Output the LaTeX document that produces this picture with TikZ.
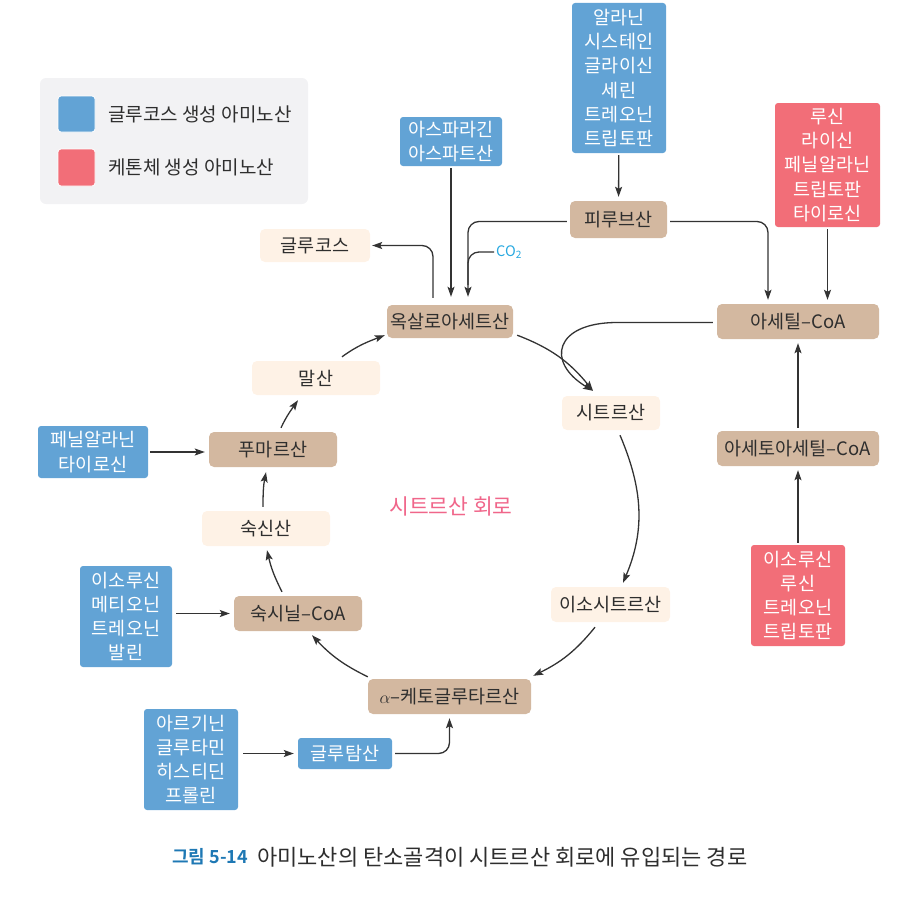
\documentclass[tikz,border=0pt]{standalone}
\usepackage{fontspec}
\setmainfont{Noto Sans CJK KR}
\newfontfamily\capbold{Noto Sans CJK KR Bold}
\usetikzlibrary{arrows.meta,calc}
\definecolor{brownc}{HTML}{D3B8A0}
\definecolor{creamc}{HTML}{FEF2E6}
\definecolor{bluec}{HTML}{62A3D5}
\definecolor{redc}{HTML}{F26E78}
\definecolor{legbg}{HTML}{F2F2F4}
\definecolor{textc}{HTML}{2E2E2E}
\definecolor{linec}{HTML}{333333}
\definecolor{pinkc}{HTML}{F0668A}
\definecolor{cyanc}{HTML}{29A9E0}
\definecolor{capblue}{HTML}{1E78B4}
\begin{document}
\begin{tikzpicture}[x=1pt,y=-1pt,
  box/.style={rounded corners=5pt, minimum height=35pt, inner sep=0pt, font=\fontsize{18.5}{24.2}\selectfont, text=textc, align=center},
  brownbox/.style={box, fill=brownc},
  creambox/.style={box, fill=creamc},
  bluebox/.style={box, fill=bluec, text=white, rounded corners=3pt},
  redbox/.style={box, fill=redc, text=white, rounded corners=3pt},
  arr/.style={draw=linec, line width=1.3pt, -{Stealth[length=10pt,width=7pt,inset=2pt]}},
  plainline/.style={draw=linec, line width=1.3pt},
  legtext/.style={anchor=west, inner sep=0pt, font=\fontsize{19}{22}\selectfont, text=textc}
]
\useasboundingbox (0,0) rectangle (909,899);

% legend
\node[fill=legbg, rounded corners=6pt, minimum width=268pt, minimum height=126pt, inner sep=0pt] (legend) at (174,141) {};
\node[fill=bluec, draw=white, line width=0.8pt, rounded corners=3pt, minimum width=37pt, minimum height=36pt, inner sep=0pt] (lgb) at (76.5,114) {};
\node[fill=redc, draw=white, line width=0.8pt, rounded corners=3pt, minimum width=37pt, minimum height=37pt, inner sep=0pt] (lgr) at (76.5,167.5) {};
\node[legtext] (lgbt) at (108,114) {글루코스 생성 아미노산};
\node[legtext] (lgrt) at (108,167.5) {케톤체 생성 아미노산};

% nodes
\node[bluebox, minimum width=94pt, minimum height=150pt] (ala) at (619,78) {알라닌\\시스테인\\글라이신\\세린\\트레오닌\\트립토판};
\node[brownbox, minimum width=97pt, minimum height=37pt] (pyr) at (618.5,219.5) {피루브산};
\node[bluebox, minimum width=102pt, minimum height=49pt] (asp) at (451,141.5) {아스파라긴\\아스파트산};
\node[redbox, minimum width=105pt, minimum height=124pt] (leu) at (827.5,165) {루신\\라이신\\페닐알라닌\\트립토판\\타이로신};
\node[creambox, minimum width=110pt, minimum height=33pt] (glc) at (315,245.5) {글루코스};
\node[brownbox, minimum width=126pt, minimum height=33pt] (oxa) at (450,321.5) {옥살로아세트산};
\node[brownbox, minimum width=162pt, minimum height=35pt] (acoa) at (798,321.5) {아세틸–CoA};
\node[creambox, minimum width=128pt, minimum height=34pt] (mal) at (316,378) {말산};
\node[creambox, minimum width=98pt, minimum height=34pt] (cit) at (611,413) {시트르산};
\node[brownbox, minimum width=162pt, minimum height=35pt] (aacoa) at (798,448.5) {아세토아세틸–CoA};
\node[bluebox, minimum width=110pt, minimum height=52pt] (phe) at (93,452) {페닐알라닌\\타이로신};
\node[brownbox, minimum width=128pt, minimum height=35pt] (fum) at (273,449.5) {푸마르산};
\node[text=pinkc, font=\fontsize{21.5}{24}\selectfont, inner sep=0pt] (cyc) at (451,506) {시트르산 회로};
\node[creambox, minimum width=128pt, minimum height=35pt] (suc) at (266,528.5) {숙신산};
\node[bluebox, minimum width=92pt, minimum height=101pt] (ile) at (126,616.5) {이소루신\\메티오닌\\트레오닌\\발린};
\node[brownbox, minimum width=128pt, minimum height=35pt] (scoa) at (298,613.5) {숙시닐–CoA};
\node[creambox, minimum width=119pt, minimum height=35pt] (icit) at (610.5,604.5) {이소시트르산};
\node[redbox, minimum width=94pt, minimum height=101pt] (ile2) at (798,595.5) {이소루신\\루신\\트레오닌\\트립토판};
\node[brownbox, minimum width=163pt, minimum height=35pt] (akg) at (449.5,696.5) {$\alpha$–케토글루타르산};
\node[bluebox, minimum width=94pt, minimum height=101pt] (arg) at (191,759.5) {아르기닌\\글루타민\\히스티딘\\프롤린};
\node[bluebox, minimum width=94pt, minimum height=31pt] (glu) at (345,753.5) {글루탐산};
\node[anchor=west, inner sep=0pt, text=cyanc, font=\fontsize{14.5}{16}\selectfont] (co2) at (496,252) {CO\textsubscript{2}};

% caption
\node[anchor=west, inner sep=0pt, text=capblue, font=\capbold\fontsize{18}{21}\selectfont] (cap1) at (172,857) {그림 5-14};
\node[anchor=west, inner sep=0pt, text=textc, font=\fontsize{22}{26}\selectfont] (cap2) at (257,857) {아미노산의 탄소골격이 시트르산 회로에 유입되는 경로};

% straight arrows
\draw[arr, shorten <=2pt, shorten >=4pt] (ala) -- (pyr);
\draw[arr, shorten <=2pt, shorten >=8pt] (asp.south) -- (asp.south |- oxa.north);
\draw[arr, shorten <=2pt, shorten >=4pt] (leu.south) -- (leu.south |- acoa.north);
\draw[arr, shorten <=3pt, shorten >=4pt] (aacoa) -- (acoa);
\draw[arr, shorten <=2pt, shorten >=4pt] (ile2) -- (aacoa);
\draw[arr, shorten <=2pt, shorten >=4pt] (phe.east) -- (phe.east -| fum.west);
\draw[arr, shorten <=4pt, shorten >=4pt] (ile.east |- scoa.west) -- (scoa.west);
\draw[arr, shorten <=5pt, shorten >=4pt] (arg.east |- glu.west) -- (glu.west);

% elbow arrows
\coordinate (merge) at (468,285);
\draw[arr, rounded corners=11pt, shorten <=3pt, shorten >=8pt] ([yshift=-2pt]pyr.west) -| ([xshift=18pt]oxa.north);
\draw[plainline, rounded corners=11pt] ([xshift=-2pt]co2.west) -| (merge);
\draw[arr, rounded corners=11pt, shorten >=2pt] ([xshift=-17pt,yshift=7pt]oxa.north) |- (glc.east);
\draw[arr, rounded corners=11pt, shorten <=3pt, shorten >=4pt] ([yshift=-2pt]pyr.east) -| ([xshift=-30pt]acoa.north);
\draw[arr, rounded corners=11pt, shorten <=3pt, shorten >=4pt] (glu.east) -| (akg.south);
\draw[arr, shorten <=4pt] ([yshift=-1pt]acoa.west) -- (617,322.5) .. controls (555,322.5) and (545,362) .. ($(cit.north)+(-18,-5)$);

% citric acid cycle arcs
\draw[arr] ($(oxa.south east)+(4,-3)$) to[out=-21,in=129] ($(cit.north)+(-18,-5)$);
\draw[arr] ($(cit.south)+(9,5)$) to[out=-67,in=67] ($(icit.north)+(12.5,-4)$);
\draw[arr] ($(icit.south)+(-15.5,5)$) to[out=-129,in=26] ($(akg.north east)+(2,-3)$);
\draw[arr] ($(akg.north west)+(0,-2)$) to[out=154,in=-47] ($(scoa.south)+(14,4)$);
\draw[arr] ($(scoa.north)+(-16,-4)$) to[out=117,in=-77] ($(suc.south)+(1,4)$);
\draw[arr] ($(suc.north)+(-3,-4)$) to[out=90,in=-101] ($(fum.south)+(-7,5)$);
\draw[arr] ($(fum.north)+(8,-4)$) to[out=65,in=-125] ($(mal.south)+(-18,5)$);
\draw[arr] ($(mal.north)+(26,-4)$) to[out=36,in=-159] ($(oxa.south west)+(-2,-3)$);
\end{tikzpicture}
\end{document}
